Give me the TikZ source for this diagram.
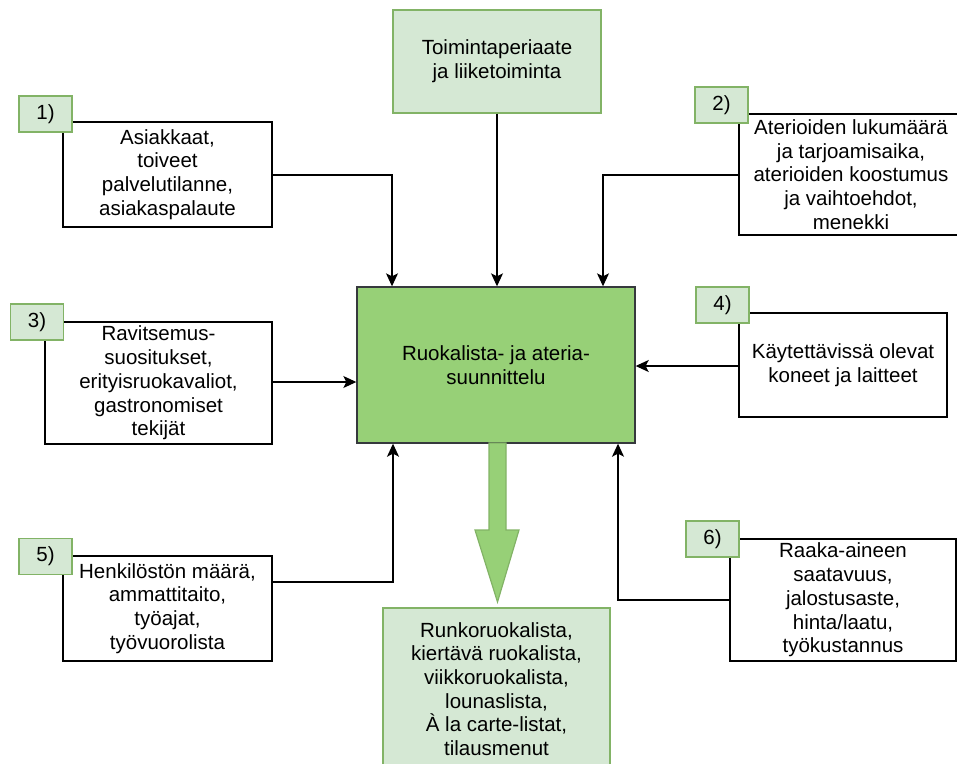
\documentclass[tikz,border=0pt]{standalone}
\usepackage{fontspec}
\setmainfont{Liberation Sans}
\usetikzlibrary{arrows.meta}
\definecolor{lightgreen}{HTML}{D5E8D4}
\definecolor{lightstroke}{HTML}{82B366}
\definecolor{maingreen}{HTML}{97D077}
\definecolor{mainstroke}{HTML}{36393D}
\begin{document}
\begin{tikzpicture}[x=1pt,y=-1pt,
  every node/.style={font=\fontsize{20.5}{23.7}\selectfont, align=center, inner sep=0pt},
  infobox/.style={draw=black, fill=white, line width=1.2pt},
  numbox/.style={draw=lightstroke, fill=lightgreen, line width=1.2pt, minimum width=53pt, minimum height=36pt},
  greenbox/.style={draw=lightstroke, fill=lightgreen, line width=1.2pt},
  mainbox/.style={draw=mainstroke, fill=maingreen, line width=1.4pt},
  conn/.style={draw=black, line width=1.2pt, -{Stealth[length=13pt,width=12pt,inset=3pt]}}
]
\useasboundingbox (0,0) rectangle (957,763);
\begin{scope}
\clip (0,0) rectangle (957,763);
% boxes
\node[greenbox, minimum width=208pt, minimum height=103pt] (top) at (497,61.5) {Toimintaperiaate\\ja liiketoiminta};
\node[mainbox, minimum width=278pt, minimum height=156pt] (main) at (496,365) {Ruokalista- ja ateria-\\suunnittelu};
\node[infobox, minimum width=209pt, minimum height=105pt] (b1) at (167.5,174.5) {Asiakkaat,\\toiveet\\palvelutilanne,\\asiakaspalaute};
\node[infobox, minimum width=224pt, minimum height=121pt] (b2) at (851,174.5) {Aterioiden lukumäärä\\ja tarjoamisaika,\\aterioiden koostumus\\ja vaihtoehdot,\\menekki};
\node[infobox, minimum width=227pt, minimum height=122pt] (b3) at (158.5,383) {Ravitsemus-\\suositukset,\\erityisruokavaliot,\\gastronomiset\\tekijät};
\node[infobox, minimum width=208pt, minimum height=104pt] (b4) at (843,365) {Käytettävissä olevat\\koneet ja laitteet};
\node[infobox, minimum width=209pt, minimum height=105pt] (b5) at (167.5,608.5) {Henkilöstön määrä,\\ammattitaito,\\työajat,\\työvuorolista};
\node[infobox, minimum width=226pt, minimum height=122pt] (b6) at (843,600) {Raaka-aineen\\saatavuus,\\jalostusaste,\\hinta/laatu,\\työkustannus};
\node[greenbox, minimum width=227pt, minimum height=162pt] (out) at (496.5,689) {Runkoruokalista,\\kiertävä ruokalista,\\viikkoruokalista,\\lounaslista,\\À la carte-listat,\\tilausmenut};
% number labels
\node[numbox] (l1) at (45.5,114) {1)};
\node[numbox] (l2) at (721.5,105) {2)};
\node[numbox] (l3) at (37,322) {3)};
\node[numbox] (l4) at (722.5,305) {4)};
\node[numbox] (l5) at (45.5,556.5) {5)};
\node[numbox] (l6) at (712.5,539) {6)};
% connectors
\draw[conn] (top.south) -- (top.south |- main.north);
\draw[conn] (b1.east |- 0,175) -| (392,0 |- main.north);
\draw[conn] (b2.west |- 0,175) -| (603,0 |- main.north);
\draw[conn] (b3.east |- 0,382) -- (main.west |- 0,382);
\draw[conn] (b4.west |- 0,366) -- (main.east |- 0,366);
\draw[conn] (b5.east |- 0,582) -| (393,0 |- main.south);
\draw[conn] (b6.west |- 0,600) -| (618,0 |- main.south);
% big output arrow
\coordinate (as) at (main.south);
\draw[draw=lightstroke, fill=maingreen, line width=1.2pt]
  (489,443) -- (506,443) -- (506,530) -- (519,530) -- (497.5,602) -- (475,530) -- (489,530) -- cycle;
\end{scope}
\end{tikzpicture}
\end{document}
